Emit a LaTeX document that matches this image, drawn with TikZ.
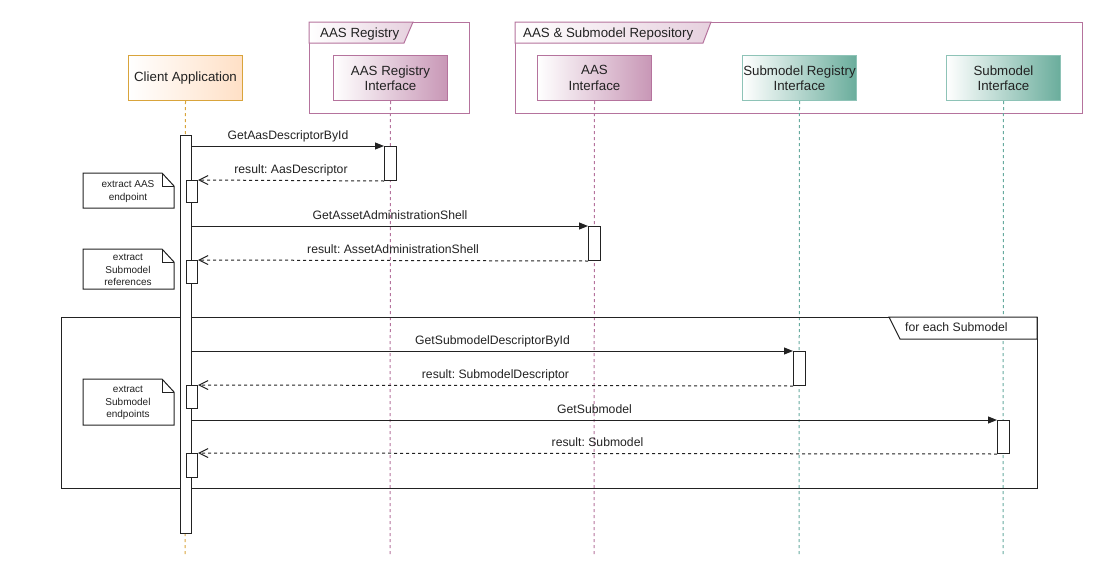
\documentclass[tikz,border=0pt]{standalone}
\usepackage{fontspec}
\setmainfont{Liberation Sans}
\frenchspacing
\usetikzlibrary{arrows.meta}
\definecolor{cliB}{HTML}{D9A43B}
\definecolor{cliF}{HTML}{FFE0C6}
\definecolor{purB}{HTML}{B5739D}
\definecolor{purF}{HTML}{C897B6}
\definecolor{teaB}{HTML}{8EC3B7}
\definecolor{teaF}{HTML}{6AAD9C}
\definecolor{teaL}{HTML}{67AB9F}
\definecolor{ink}{HTML}{222222}
\tikzset{
  hdr/.style 2 args={draw=#1, line width=1pt, left color=white, right color=#2,
    minimum width=114pt, minimum height=45pt, inner sep=0pt, anchor=north west,
    align=center, text=ink, font=\fontsize{13.3}{15.5}\selectfont},
  life/.style={draw=#1, line width=1pt, dash pattern=on 3pt off 3pt},
  bar/.style={draw=ink, fill=white, line width=1pt, minimum width=11pt,
    inner sep=0pt, anchor=north west},
  call/.style={draw=ink, line width=1pt, -{Triangle[length=9pt,width=7pt]}},
  ret/.style={draw=ink, line width=1pt, dash pattern=on 3pt off 3pt,
    -{Straight Barb[length=9pt,width=9pt,line width=1pt]}},
  lbl/.style={midway, anchor=base, yshift=7pt, inner sep=0pt, text=ink,
    font=\fontsize{12.2}{14}\selectfont},
  frm/.style={draw=#1, line width=1pt, inner sep=0pt, anchor=north west},
  tabtxt/.style={anchor=base west, inner sep=0pt, text=ink,
    font=\fontsize{13.3}{15.5}\selectfont},
  notetxt/.style={align=center, inner sep=0pt, text=ink,
    font=\fontsize{10}{12.4}\selectfont},
  notebox/.style={draw=ink, line width=1pt, fill=white}
}
\begin{document}
\begin{tikzpicture}[x=1pt,y=-1pt]
\useasboundingbox (0,0) rectangle (1106,563);

% group frames
\node[frm=purB, minimum width=160pt, minimum height=91pt] (regF) at (309,22) {};
\draw[purB, line width=1pt, left color=white, right color=purF!45]
  (309,22) -- (413,22) -- (404,43) -- (309,43) -- cycle;
\node[tabtxt] (regT) at (320,37) {AAS Registry};

\node[frm=purB, minimum width=567pt, minimum height=91pt] (repF) at (515,22) {};
\draw[purB, line width=1pt, left color=white, right color=purF!45]
  (515,22) -- (711,22) -- (703,43) -- (515,43) -- cycle;
\node[tabtxt] (repT) at (523,37) {AAS \& Submodel Repository};

% lifeline headers
\node[hdr={cliB}{cliF}] (cli) at (128,55) {Client Application};
\node[hdr={purB}{purF}] (reg) at (333,55) {AAS Registry\\Interface};
\node[hdr={purB}{purF}] (aas) at (537,55) {AAS\\Interface};
\node[hdr={teaB}{teaF}] (smr) at (742,55) {Submodel Registry\\Interface};
\node[hdr={teaB}{teaF}] (sm)  at (946,55) {Submodel\\Interface};

\coordinate (cliE) at (185,555);
\coordinate (regE) at (390,555);
\coordinate (aasE) at (594,555);
\coordinate (smrE) at (799,555);
\coordinate (smE)  at (1003,555);
\draw[life=cliB] (cli.south) -- (cliE);
\draw[life=purB] (reg.south) -- (regE);
\draw[life=purB] (aas.south) -- (aasE);
\draw[life=teaL] (smr.south) -- (smrE);
\draw[life=teaL] (sm.south) -- (smE);

% loop frame
\node[frm=ink, minimum width=976pt, minimum height=171pt] (loop) at (61,317) {};
\draw[ink, line width=1pt, fill=white] (889,317) -- (1037,317) -- (1037,339) -- (900,339) -- cycle;
\node[anchor=base west, inner sep=0pt, text=ink, font=\fontsize{12.2}{14}\selectfont]
  (loopT) at (905,331) {for each Submodel};

% notes
\foreach \nm/\ya/\yb/\txt in {n1/173/208/{extract AAS\\endpoint},
    n2/249/289/{extract\\Submodel\\references},
    n3/379/425/{extract\\Submodel\\endpoints}}{
  \draw[notebox] (83,\ya) -- (162,\ya) -- (174,\ya+13) -- (174,\yb) -- (83,\yb) -- cycle;
  \draw[ink, line width=1pt] (162,\ya) -- (162,\ya+13) -- (174,\ya+13);
  \node[notetxt] (\nm) at (128,{(\ya+\yb)/2+1}) {\txt};
}

% activation bars
\node[bar, minimum height=398pt] (a0) at (180,135) {};
\node[bar, minimum width=12pt, minimum height=34pt] (r1) at (384,146) {};
\node[bar, minimum height=22pt] (s1) at (186,180) {};
\node[bar, minimum width=12pt, minimum height=34pt] (r2) at (588,226) {};
\node[bar, minimum height=23pt] (s2) at (186,260) {};
\node[bar, minimum width=12pt, minimum height=34pt] (r3) at (793,351) {};
\node[bar, minimum height=23pt] (s3) at (186,385) {};
\node[bar, minimum width=12pt, minimum height=33pt] (r4) at (997,420) {};
\node[bar, minimum height=24pt] (s4) at (186,453) {};

% messages
\draw[call] (a0.east |- r1.north west) -- node[lbl] {GetAasDescriptorById} (r1.north west);
\draw[ret] (r1.south west) -- node[lbl] {result: AasDescriptor} (s1.north east);
\draw[call] (a0.east |- r2.north west) -- node[lbl] {GetAssetAdministrationShell} (r2.north west);
\draw[ret] (r2.south west) -- node[lbl] {result: AssetAdministrationShell} (s2.north east);
\draw[call] (a0.east |- r3.north west) -- node[lbl] {GetSubmodelDescriptorById} (r3.north west);
\draw[ret] (r3.south west) -- node[lbl] {result: SubmodelDescriptor} (s3.north east);
\draw[call] (a0.east |- r4.north west) -- node[lbl] {GetSubmodel} (r4.north west);
\draw[ret] (r4.south west) -- node[lbl] {result: Submodel} (s4.north east);
\end{tikzpicture}
\end{document}
